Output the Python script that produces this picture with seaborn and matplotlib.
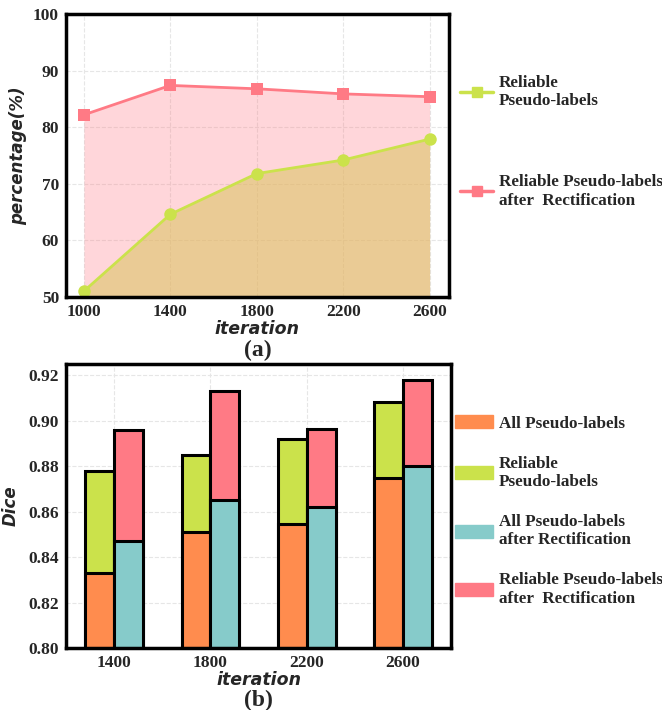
import matplotlib
matplotlib.use("Agg")
import matplotlib.pyplot as plt
import seaborn as sns
import pandas as pd
from matplotlib.lines import Line2D
from matplotlib.patches import Patch

# (a) percentage of reliable pseudo-labels
iters_a = [1000, 1400, 1800, 2200, 2600]
reliable = [51.0, 64.6, 71.8, 74.2, 77.9]
reliable_rect = [82.2, 87.4, 86.8, 85.9, 85.4]

# (b) Dice, stacked bars
iters_b = ["1400", "1800", "2200", "2600"]
all_pl = [0.833, 0.851, 0.8545, 0.875]
reliable_pl = [0.878, 0.885, 0.892, 0.9085]
all_rect = [0.847, 0.865, 0.862, 0.880]
reliable_rect_b = [0.896, 0.913, 0.8963, 0.918]

GREEN = "#CBE24B"
PINK = "#FF7A85"
ORANGE = "#FF8C4E"
TEAL = "#86CBCA"

sns.set_style("white")
serif = "Liberation Serif"
tick_font = dict(family=serif, weight="bold", size=12.5)
leg_font = dict(family=serif, weight="bold", size=12.3)

fig = plt.figure(figsize=(6.62, 7.10), dpi=100)
ax1 = fig.add_axes([0.0997, 0.582, 0.578, 0.398])
ax2 = fig.add_axes([0.0997, 0.0873, 0.582, 0.400])

# ---- top chart
df_a = pd.DataFrame({"iteration": iters_a, "reliable": reliable, "rect": reliable_rect})
ax1.fill_between(df_a["iteration"], 50, df_a["reliable"], color=GREEN, alpha=0.55, lw=0)
ax1.fill_between(df_a["iteration"], 50, df_a["rect"], color=PINK, alpha=0.3, lw=0)
sns.lineplot(data=df_a, x="iteration", y="rect", ax=ax1, color=PINK, marker="s",
             markersize=9, markeredgewidth=0, lw=2)
sns.lineplot(data=df_a, x="iteration", y="reliable", ax=ax1, color=GREEN, marker="o",
             markersize=9, markeredgewidth=0, lw=2)
ax1.set_xlim(917, 2688)
ax1.set_ylim(50, 100)
ax1.set_xticks(iters_a)
ax1.set_yticks([50, 60, 70, 80, 90, 100])
ax1.grid(True, ls="--", color="#e6e6e6", lw=0.8)
ax1.set_xlabel("iteration", fontsize=12.5, fontweight="bold", style="italic", labelpad=0)
ax1.set_ylabel("percentage(%)", fontsize=12, fontweight="bold", style="italic", labelpad=4)
ax1.text(0.5, -0.19, "(a)", transform=ax1.transAxes, ha="center", va="center",
         family=serif, weight="bold", size=17)

h_a = [Line2D([], [], color=GREEN, marker="s", markersize=7, lw=2.5),
       Line2D([], [], color=PINK, marker="s", markersize=7, lw=2.5)]
ax1.legend(h_a, ["Reliable\nPseudo-labels", "Reliable Pseudo-labels\nafter  Rectification"],
           loc="upper left", bbox_to_anchor=(1.031, 0.785), frameon=False,
           borderaxespad=0, borderpad=0,
           prop=leg_font, handlelength=1.9, handletextpad=0.35, labelspacing=3.8)

# ---- bottom chart
df_top = pd.DataFrame({"iteration": iters_b * 2,
                       "group": ["a"] * 4 + ["b"] * 4,
                       "dice": reliable_pl + reliable_rect_b})
df_base = pd.DataFrame({"iteration": iters_b * 2,
                        "group": ["a"] * 4 + ["b"] * 4,
                        "dice": all_pl + all_rect})
sns.barplot(data=df_top, x="iteration", y="dice", hue="group", palette=[GREEN, PINK],
            width=0.6, edgecolor="black", linewidth=2.2, ax=ax2, legend=False, saturation=1)
sns.barplot(data=df_base, x="iteration", y="dice", hue="group", palette=[ORANGE, TEAL],
            width=0.6, edgecolor="black", linewidth=2.2, ax=ax2, legend=False, saturation=1)
ax2.set_xlim(-0.5, 3.5)
ax2.set_ylim(0.80, 0.925)
ax2.set_yticks([0.80, 0.82, 0.84, 0.86, 0.88, 0.90, 0.92])
ax2.set_yticklabels([f"{v:.2f}" for v in [0.80, 0.82, 0.84, 0.86, 0.88, 0.90, 0.92]])
ax2.grid(True, ls="--", color="#e6e6e6", lw=0.8)
ax2.set_axisbelow(True)
ax2.set_xlabel("iteration", fontsize=12.5, fontweight="bold", style="italic", labelpad=0)
ax2.set_ylabel("Dice", fontsize=12, fontweight="bold", style="italic", labelpad=6)
ax2.text(0.5, -0.183, "(b)", transform=ax2.transAxes, ha="center", va="center",
         family=serif, weight="bold", size=17)

h_b = [Patch(color=ORANGE), Patch(color=GREEN), Patch(color=TEAL), Patch(color=PINK)]
ax2.legend(h_b, ["All Pseudo-labels", "Reliable\nPseudo-labels",
                 "All Pseudo-labels\nafter Rectification",
                 "Reliable Pseudo-labels\nafter  Rectification"],
           loc="upper left", bbox_to_anchor=(1.01, 0.82), frameon=False,
           borderaxespad=0, borderpad=0,
           prop=leg_font, handlelength=2.2, handleheight=0.8,
           handletextpad=0.35, labelspacing=1.4)

for ax in (ax1, ax2):
    for s in ax.spines.values():
        s.set_linewidth(2.5)
        s.set_color("black")
    ax.tick_params(axis="both", length=3, width=1, pad=2)
    for lab in ax.get_xticklabels() + ax.get_yticklabels():
        lab.set_fontproperties(matplotlib.font_manager.FontProperties(**tick_font))

fig.savefig("out.png", dpi=100)
